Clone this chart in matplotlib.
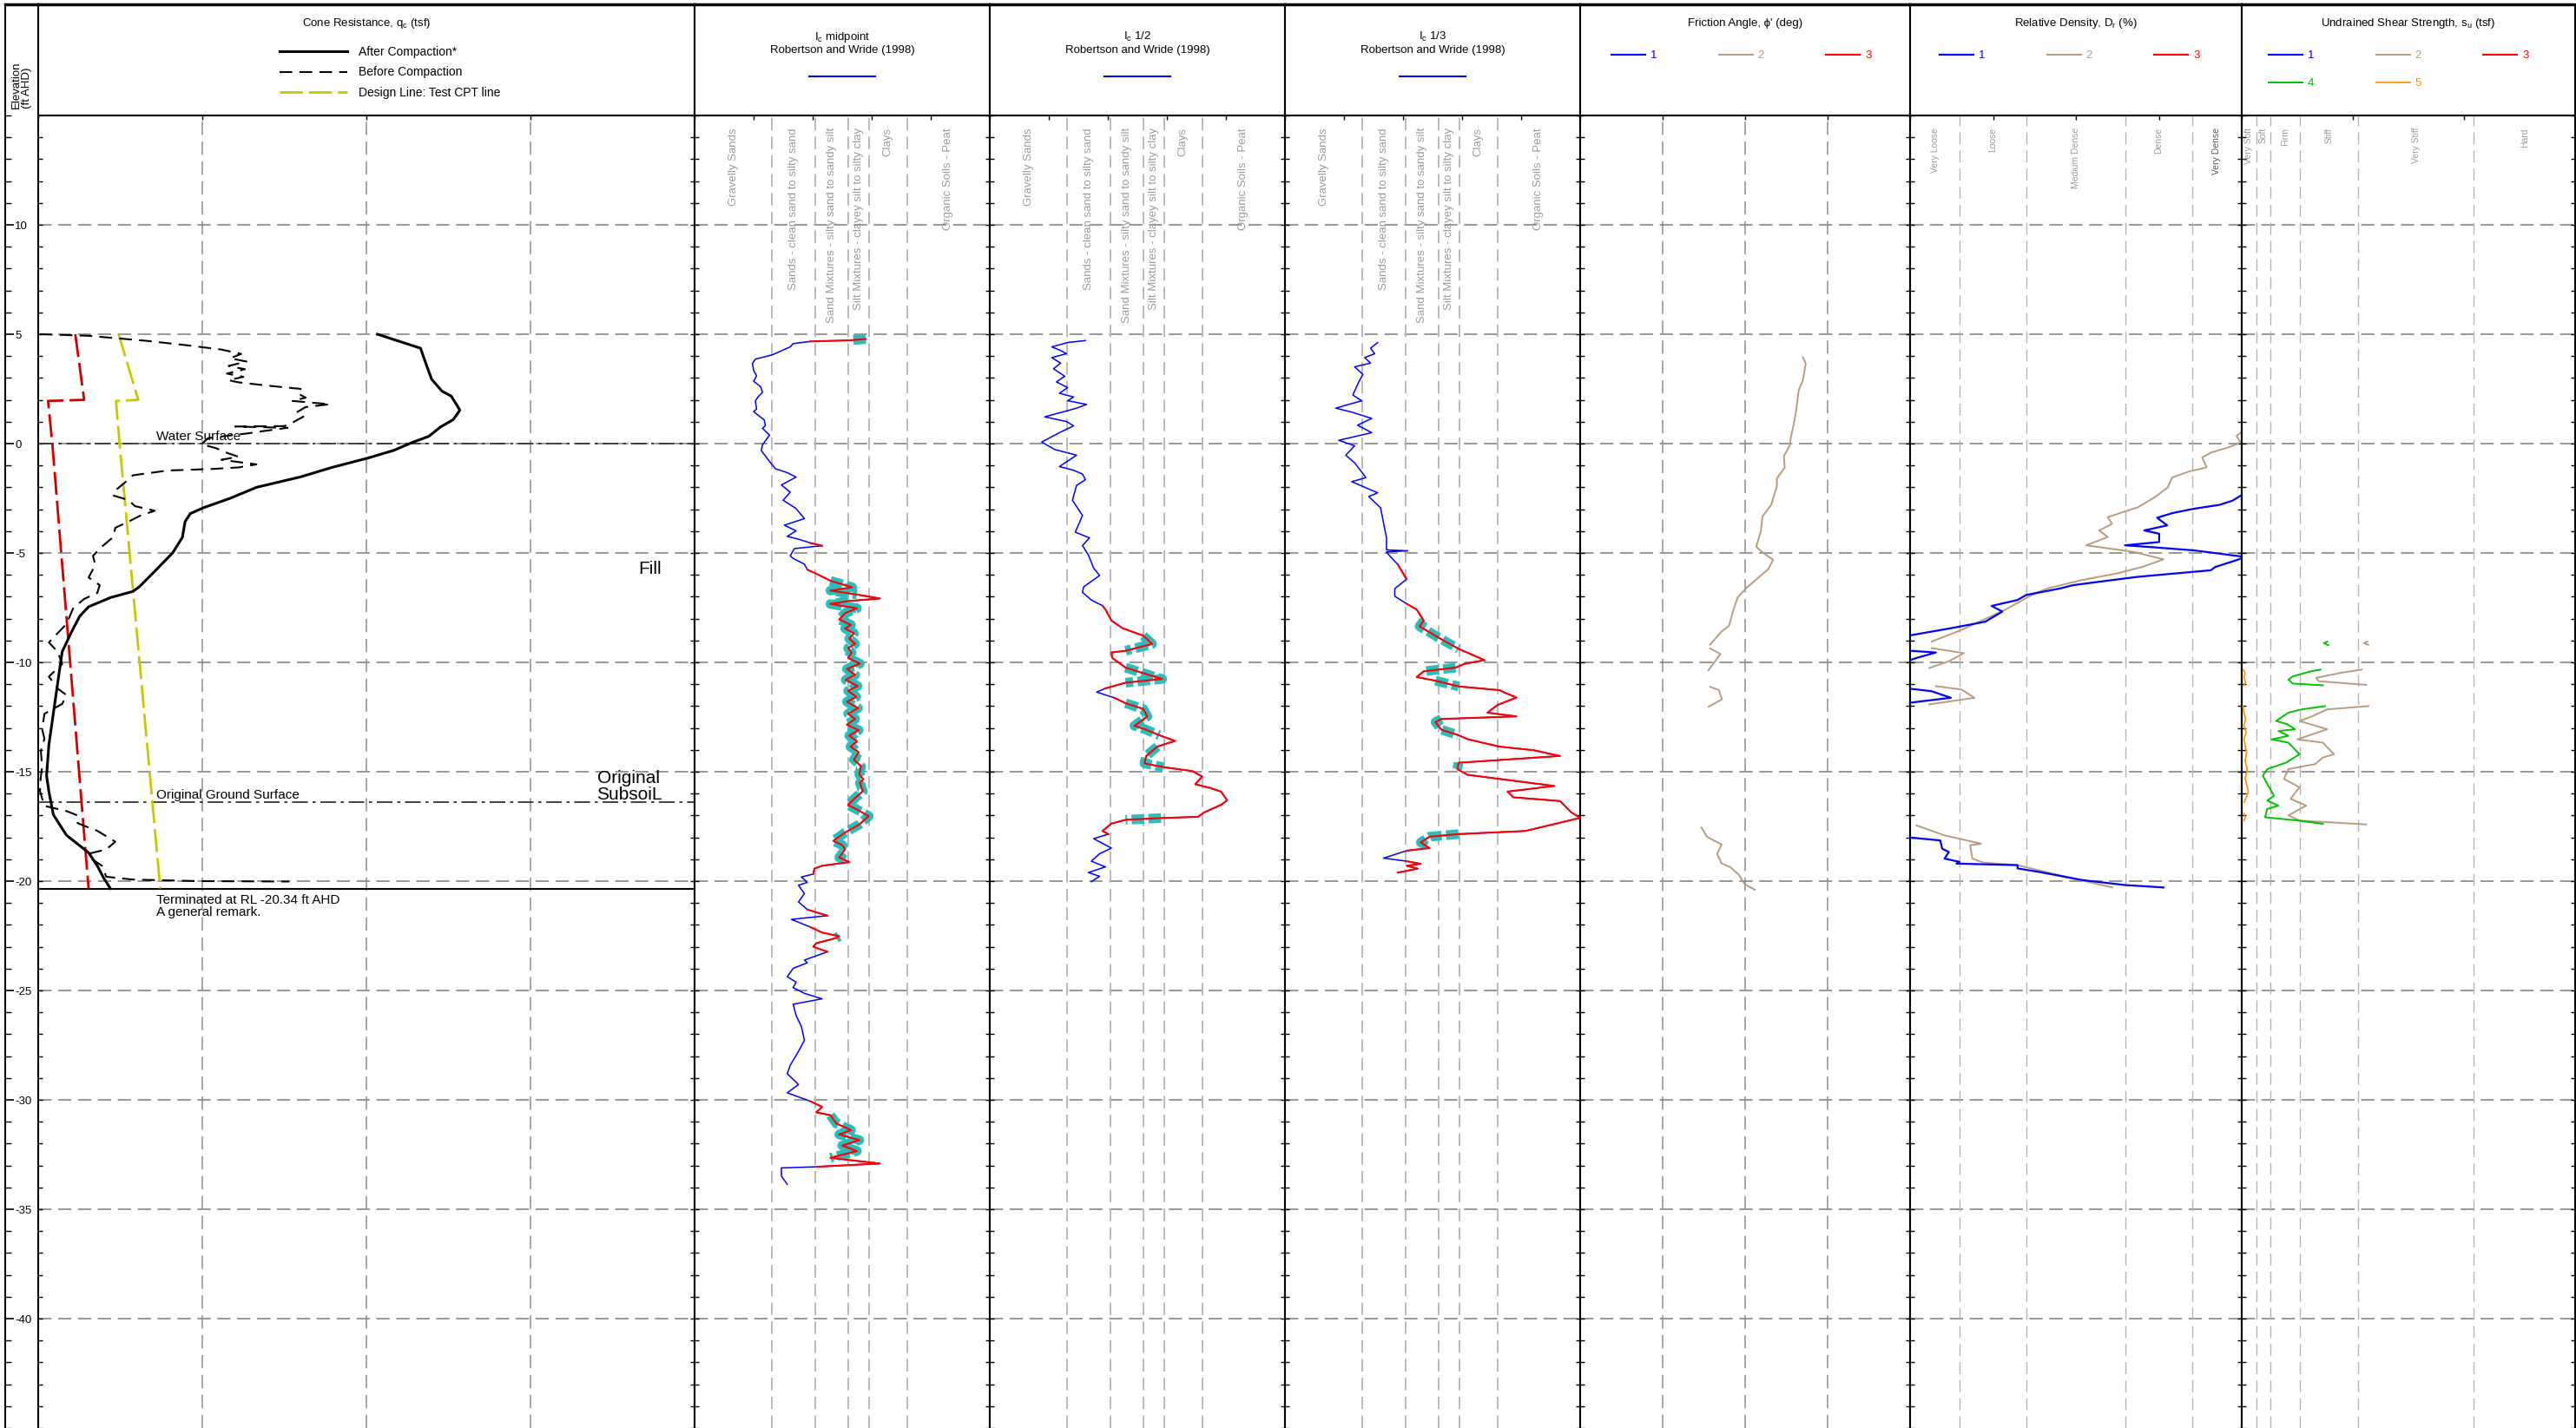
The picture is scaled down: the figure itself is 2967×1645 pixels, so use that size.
import matplotlib.pyplot as plt
from matplotlib.lines import Line2D
import numpy as np

nan = np.nan

# ---------------------------------------------------------------- data
# every series is (elevation ft AHD, value)
qc_after = np.array([
    (5.0, 206.7), (4.36, 233), (3.8, 235.6), (2.95, 239.7), (2.4, 246), (2.17, 251.7),
    (1.53, 257), (1.1, 253), (0.75, 245), (0.33, 238), (0.04, 227.5), (-0.31, 216.7),
    (-0.67, 200.5), (-1.09, 179), (-1.52, 160), (-2.0, 133), (-2.5, 117), (-2.93, 100.8),
    (-3.2, 92.7), (-3.57, 89.5), (-4.28, 87.9), (-4.99, 82), (-5.84, 71), (-6.54, 61.7),
    (-6.76, 57.7), (-7.04, 44), (-7.46, 30.7), (-7.89, 25.3), (-8.67, 19.9), (-9.52, 14.6),
    (-10.93, 11.9), (-12.35, 9.2), (-13.77, 6.5), (-15.18, 5.1), (-15.9, 6.5), (-16.96, 9.2),
    (-17.9, 17.2), (-18.7, 30.7), (-19.3, 36), (-19.87, 40), (-20.34, 44)])

qc_before = np.array([
    (5.0, 1), (4.93, 30), (4.7, 65.7), (4.5, 90), (4.3, 111.6), (4.1, 123.7), (3.9, 117),
    (3.75, 127), (3.55, 116), (3.4, 126), (3.2, 115), (3.05, 125), (2.9, 116), (2.8, 122),
    (2.66, 138.5), (2.5, 160), (2.3, 158), (2.1, 163), (1.95, 155), (1.8, 177.8), (1.67, 163),
    (1.45, 158), (1.25, 162), (0.96, 155), (0.8, 150), (0.78, 120), (0.72, 152), (0.55, 135),
    (0.47, 128), (0.25, 103.5), (-0.03, 99.5), (-0.2, 108), (-0.31, 111.6), (-0.45, 116),
    (-0.6, 122), (-0.74, 111.6), (-0.95, 133), (-1.09, 122), (-1.16, 106), (-1.23, 79),
    (-1.45, 57.7), (-1.73, 53.6), (-2.08, 48), (-2.37, 45.6), (-2.58, 55), (-2.86, 59),
    (-3.07, 71), (-3.3, 62), (-3.57, 55), (-3.85, 47), (-4.28, 45.6), (-4.7, 39), (-5.13, 33.4),
    (-5.55, 34.8), (-6.12, 30.7), (-6.47, 37.5), (-6.83, 36), (-7.1, 28), (-7.53, 21.3),
    (-8.24, 17.3), (-9.09, 6.5), (-9.52, 11.9), (-10.08, 14.6), (-10.65, 6.5), (-11.2, 11.9),
    (-11.5, 17.3), (-11.9, 14.6), (-12.35, 3.8), (-13.06, 2.4), (-13.5, 3.8), (-14.05, 1.6),
    (-14.76, 2.4), (-15.3, 1.5), (-15.9, 1.1), (-16.56, 3.8), (-16.8, 17.3), (-17.0, 24),
    (-17.35, 24), (-17.5, 29), (-17.7, 36), (-18.2, 47), (-18.55, 41.5), (-18.75, 30.7),
    (-19.0, 33), (-19.3, 38.8), (-19.8, 41.5), (-19.93, 57.7), (-20.0, 98), (-20.02, 153)])

qc_design = np.array([(5.0, 49), (2.0, 61), (1.95, 47.4), (0.0, 49.6), (-20.34, 74.4)])
qc_limit = np.array([(5.0, 22.6), (2.0, 28), (1.95, 6), (0.0, 8.6), (-20.34, 30.7)])

water_surface = 0.0
original_ground = -16.4
termination = -20.34

ic_mid = np.array([
    (4.78, 2.90), (4.72, 2.62), (4.67, 1.96), (4.57, 1.67), (4.42, 1.62), (4.06, 1.32),
    (3.86, 1.03), (3.66, 0.98), (3.35, 1.00), (3.10, 1.05), (2.85, 1.00), (2.60, 1.12),
    (2.34, 1.15), (2.15, 1.08), (1.96, 1.03), (1.58, 1.05), (1.46, 1.00), (1.08, 1.18),
    (0.82, 1.20), (0.70, 1.15), (0.39, 1.27), (-0.06, 1.15), (-0.32, 1.13), (-0.82, 1.27),
    (-1.15, 1.37), (-1.33, 1.57), (-1.53, 1.72), (-1.89, 1.47), (-2.22, 1.62), (-2.59, 1.50),
    (-2.97, 1.72), (-3.43, 1.86), (-3.73, 1.52), (-3.99, 1.72), (-4.24, 1.57), (-4.37, 1.76),
    (-4.54, 1.96), (-4.67, 2.16), (-4.80, 1.69), (-5.13, 1.62), (-5.25, 1.67), (-5.51, 1.86),
    (-5.76, 1.91), (-6.01, 2.11), (-6.27, 2.30), (-6.47, 2.55), (-6.57, 2.67), (-6.72, 2.30),
    (-6.90, 2.75), (-7.08, 3.14), (-7.20, 2.60), (-7.33, 2.30), (-7.53, 2.75), (-7.75, 2.55),
    (-8.04, 2.45), (-8.29, 2.65), (-8.45, 2.55), (-8.67, 2.70), (-8.92, 2.62), (-9.15, 2.72),
    (-9.35, 2.60), (-9.56, 2.66), (-9.80, 2.60), (-10.06, 2.80), (-10.30, 2.58), (-10.57, 2.72),
    (-10.80, 2.56), (-11.08, 2.76), (-11.30, 2.60), (-11.58, 2.74), (-11.80, 2.58), (-12.09, 2.77),
    (-12.35, 2.60), (-12.59, 2.72), (-12.85, 2.58), (-13.10, 2.78), (-13.35, 2.62), (-13.61, 2.75),
    (-13.85, 2.64), (-14.11, 2.78), (-14.45, 2.70), (-14.75, 2.82), (-15.13, 2.79), (-15.35, 2.86),
    (-15.51, 2.80), (-15.89, 2.85), (-16.20, 2.72), (-16.52, 2.60), (-16.80, 2.80), (-17.03, 2.95),
    (-17.41, 2.79), (-17.78, 2.55), (-18.16, 2.35), (-18.35, 2.50), (-18.54, 2.55), (-18.92, 2.45),
    (-19.13, 2.62), (-19.30, 2.16), (-19.43, 2.03), (-19.68, 2.01), (-19.81, 1.81), (-20.06, 1.91),
    (-20.19, 1.76), (-20.57, 1.86), (-20.95, 1.76), (-21.30, 1.91), (-21.58, 2.25), (-21.75, 1.64),
    (-22.10, 1.96), (-22.35, 2.16), (-22.52, 2.45), (-22.60, 2.40), (-22.84, 2.06), (-23.00, 2.01),
    (-23.23, 2.25), (-23.61, 1.86), (-23.73, 1.91), (-23.99, 1.67), (-24.37, 1.57), (-24.62, 1.72),
    (-24.87, 1.67), (-25.13, 1.86), (-25.38, 2.16), (-25.63, 1.67), (-26.14, 1.72), (-26.65, 1.81),
    (-27.28, 1.86), (-27.78, 1.76), (-28.42, 1.62), (-28.80, 1.57), (-29.30, 1.76), (-29.68, 1.57),
    (-30.06, 1.96), (-30.32, 2.16), (-30.57, 2.06), (-30.70, 2.30), (-31.08, 2.40), (-31.38, 2.65),
    (-31.58, 2.45), (-31.84, 2.79), (-32.09, 2.50), (-32.34, 2.75), (-32.65, 2.30), (-32.91, 3.14),
    (-33.06, 2.06), (-33.11, 1.47), (-33.48, 1.47), (-33.86, 1.57)])

ic_half = np.array([
    (4.71, 1.62), (4.62, 1.32), (4.42, 1.05), (4.28, 1.18), (4.11, 1.30), (3.93, 1.05),
    (3.68, 1.20), (3.42, 1.08), (3.08, 1.27), (2.82, 1.13), (2.56, 1.32), (2.30, 1.18),
    (2.13, 1.42), (1.96, 1.32), (1.79, 1.64), (1.62, 1.47), (1.22, 0.93), (1.01, 1.30),
    (0.81, 1.42), (0.50, 1.18), (0.07, 0.88), (-0.27, 1.10), (-0.53, 1.47), (-1.05, 1.18),
    (-1.22, 1.42), (-1.39, 1.57), (-1.65, 1.62), (-1.91, 1.47), (-2.59, 1.40), (-3.28, 1.57),
    (-4.05, 1.45), (-4.31, 1.69), (-4.66, 1.57), (-5.09, 1.67), (-5.69, 1.76), (-6.03, 1.86),
    (-6.55, 1.59), (-6.80, 1.57), (-7.15, 1.72), (-7.41, 1.91), (-7.58, 1.96), (-8.09, 2.06),
    (-8.44, 2.25), (-8.78, 2.60), (-9.16, 2.75), (-9.47, 2.30), (-9.55, 2.06), (-9.81, 2.08),
    (-10.24, 2.30), (-10.58, 2.70), (-10.76, 2.92), (-10.93, 2.30), (-11.19, 1.96), (-11.36, 1.81),
    (-11.62, 2.11), (-11.87, 2.30), (-12.13, 2.60), (-12.47, 2.67), (-12.90, 2.45), (-13.08, 2.65),
    (-13.33, 2.87), (-13.59, 3.14), (-13.85, 2.84), (-14.28, 2.65), (-14.62, 2.62), (-14.79, 2.94),
    (-14.97, 3.43), (-15.22, 3.60), (-15.57, 3.48), (-15.74, 3.73), (-15.91, 3.92), (-16.31, 4.02),
    (-16.51, 3.92), (-16.86, 3.63), (-17.06, 3.53), (-17.12, 2.90), (-17.20, 2.30), (-17.37, 2.06),
    (-17.71, 1.91), (-17.85, 2.01), (-18.06, 1.76), (-18.49, 2.06), (-18.75, 1.86), (-19.09, 1.72),
    (-19.35, 1.96), (-19.61, 1.67), (-19.78, 1.86), (-20.03, 1.72)])

ic_third = np.array([
    (4.62, 1.57), (4.36, 1.45), (4.11, 1.52), (3.93, 1.35), (3.68, 1.45), (3.51, 1.18),
    (3.16, 1.32), (2.82, 1.25), (2.22, 1.15), (1.96, 1.30), (1.62, 0.86), (1.44, 1.13),
    (1.15, 1.47), (0.84, 1.23), (0.50, 1.47), (0.15, 0.91), (-0.10, 1.18), (-0.53, 1.03),
    (-0.88, 1.18), (-1.30, 1.30), (-1.56, 1.37), (-1.74, 1.13), (-2.25, 1.57), (-2.42, 1.42),
    (-2.94, 1.62), (-3.63, 1.67), (-4.31, 1.72), (-4.86, 1.72), (-4.90, 2.08), (-4.95, 1.72),
    (-5.09, 1.76), (-5.52, 1.91), (-6.20, 2.06), (-6.63, 1.86), (-6.98, 1.86), (-7.32, 2.06),
    (-7.58, 2.23), (-8.09, 2.35), (-8.35, 2.28), (-8.87, 2.60), (-9.38, 2.94), (-9.90, 3.38),
    (-10.07, 3.04), (-10.24, 2.89), (-10.41, 2.35), (-10.67, 2.23), (-10.84, 2.55), (-11.10, 2.94),
    (-11.27, 3.63), (-11.44, 3.77), (-11.61, 3.92), (-11.95, 3.60), (-12.30, 3.43), (-12.47, 3.92),
    (-12.59, 2.65), (-12.73, 2.55), (-13.08, 2.65), (-13.33, 2.94), (-13.51, 3.09), (-13.85, 3.63),
    (-14.02, 4.22), (-14.28, 4.66), (-14.59, 2.94), (-14.88, 2.92), (-15.14, 3.09), (-15.65, 4.56),
    (-15.91, 3.77), (-16.17, 3.87), (-16.34, 4.66), (-16.86, 4.85), (-17.11, 5.00), (-17.71, 4.07),
    (-17.85, 2.94), (-17.97, 2.45), (-18.23, 2.30), (-18.49, 2.45), (-18.61, 2.06), (-18.95, 1.67),
    (-19.09, 2.06), (-19.21, 2.30), (-19.30, 2.06), (-19.43, 2.25), (-19.61, 1.91)])

phi_2 = np.array([
    (3.95, 54.0), (3.66, 54.7), (2.88, 54.0), (2.45, 53.0), (1.41, 52.3), (0.98, 51.9),
    (0.29, 51.1), (-0.09, 50.8), (-0.57, 49.4), (-1.09, 49.6), (-1.60, 47.7), (-1.95, 47.7),
    (-2.81, 46.3), (-3.33, 44.2), (-4.02, 43.8), (-4.71, 42.7), (-4.97, 44.2), (-5.31, 46.8),
    (-5.74, 45.6), (-6.60, 40.3), (-7.03, 38.2), (-7.64, 37.1), (-8.33, 36.1), (-8.59, 34.3),
    (-9.19, 31.5), (nan, nan), (-9.36, 31.5), (-9.62, 34.0), (-10.36, 31.1), (nan, nan),
    (-11.12, 31.5), (-11.26, 33.6), (-11.69, 34.4), (-12.03, 31.1), (nan, nan),
    (-17.55, 29.4), (-17.98, 30.8), (-18.33, 34.3), (-18.76, 33.2), (-19.19, 34.3),
    (-19.36, 36.4), (-19.71, 38.5), (-20.14, 39.9), (-20.40, 42.4)])

dr_1 = np.array([
    (-2.38, 99.7), (-2.61, 97.2), (-2.80, 93.3), (-2.98, 85.5), (-3.18, 79.0), (-3.39, 74.5),
    (-3.74, 77.5), (-3.97, 70.6), (-4.12, 75.1), (-4.50, 75.1), (-4.65, 64.8), (-4.73, 72.5),
    (-4.88, 85.5), (-5.18, 101.0), (-5.33, 98.4), (-5.64, 92.0), (-5.79, 90.7), (-6.09, 68.7),
    (-6.24, 60.9), (-6.47, 49.2), (-6.62, 45.3), (-6.92, 35.0), (-7.15, 32.4), (-7.42, 24.6),
    (-7.68, 27.8), (-8.14, 22.7), (-8.44, 12.3), (-8.82, -2), (nan, nan), (-9.45, -2),
    (-9.55, 7.8), (-9.80, 1.9), (-10.0, -2), (nan, nan), (-11.17, -2), (-11.32, 6.5),
    (-11.62, 12.3), (-11.88, -2), (nan, nan), (-17.98, -2), (-18.14, 9.1), (-18.52, 9.7),
    (-18.67, 11.7), (-18.97, 10.4), (-19.12, 14.9), (-19.20, 14.0), (-19.27, 32.4),
    (-19.42, 32.4), (-19.58, 38.9), (-19.95, 51.8), (-20.18, 64.8), (-20.29, 76.4)])

dr_2 = np.array([
    (0.5, 99.7), (0.35, 98.4), (0.05, 99.7), (-0.18, 95.9), (-0.41, 90.7), (-0.64, 88.1),
    (-1.09, 89.4), (-1.27, 84.2), (-1.55, 79.0), (-2.0, 77.7), (-2.45, 73.8), (-2.91, 68.7),
    (-3.36, 59.6), (-3.67, 60.9), (-3.97, 57.0), (-4.27, 59.6), (-4.65, 53.1), (-4.95, 67.4),
    (-5.29, 76.4), (-5.64, 70.0), (-5.94, 62.2), (-6.24, 51.8), (-6.62, 41.5), (-6.85, 37.6),
    (-7.61, 28.5), (-7.83, 25.3), (-8.52, 15.5), (-9.05, 6.5), (nan, nan), (-9.35, 6.5),
    (-9.58, 16.2), (-9.95, 11.7), (-10.26, 5.8), (nan, nan), (-11.09, 7.8), (-11.24, 15.5),
    (-11.62, 19.4), (-11.92, 5.8), (nan, nan), (-17.45, 1.9), (-17.91, 10.4), (-18.29, 21.4),
    (-18.36, 18.1), (-18.97, 18.8), (-19.15, 22.0), (-19.27, 32.4), (-19.88, 49.2),
    (-20.29, 60.9)])

su_2 = np.array([
    (-9.05, 1.13), (-9.12, 1.10), (-9.20, 1.14), (nan, nan),
    (-10.33, 1.08), (-10.48, 0.89), (-10.71, 0.67), (-10.86, 0.69), (-11.03, 1.12), (nan, nan),
    (-12.0, 1.14), (-12.15, 0.77), (-12.45, 0.64), (-12.68, 0.52), (-13.06, 0.77), (-13.52, 0.50),
    (-13.67, 0.73), (-14.20, 0.83), (-14.35, 0.73), (-14.65, 0.66), (-14.88, 0.42), (-15.33, 0.38),
    (-15.71, 0.52), (-16.24, 0.44), (-16.55, 0.58), (-17.0, 0.42), (-17.23, 0.52), (-17.41, 1.12)])

su_4 = np.array([
    (-9.05, 0.77), (-9.12, 0.74), (-9.22, 0.78), (nan, nan),
    (-10.33, 0.71), (-10.41, 0.62), (-10.64, 0.46), (-10.79, 0.42), (-10.97, 0.46), (-11.05, 0.73),
    (nan, nan), (-12.0, 0.75), (-12.15, 0.54), (-12.30, 0.42), (-12.68, 0.31), (-12.83, 0.41),
    (-13.06, 0.48), (-13.14, 0.33), (-13.36, 0.42), (-13.52, 0.27), (-13.67, 0.42), (-14.20, 0.52),
    (-14.58, 0.40), (-14.88, 0.23), (-15.18, 0.19), (-15.56, 0.23), (-16.09, 0.29), (-16.32, 0.23),
    (-16.55, 0.33), (-16.70, 0.23), (-17.08, 0.21), (-17.23, 0.50), (-17.38, 0.73)])

su_5 = np.array([
    (-10.33, 0.015), (-10.5, 0.03), (-10.7, 0.02), (-10.9, 0.035), (-11.05, 0.02), (nan, nan),
    (-12.0, 0.01), (-12.3, 0.02), (-12.6, 0.035), (-12.9, 0.02), (-13.2, 0.04), (-13.5, 0.02),
    (-13.8, 0.03), (-14.1, 0.045), (-14.5, 0.03), (-14.9, 0.05), (-15.3, 0.03), (-15.6, 0.045),
    (-15.9, 0.06), (-16.2, 0.04), (-16.4, 0.02), (nan, nan), (-16.9, 0.02), (-17.1, 0.03),
    (-17.25, 0.02)])

ic_bounds = [1.31, 2.05, 2.60, 2.95, 3.60]
ic_zones = ['Gravelly Sands', 'Sands - clean sand to silty sand',
            'Sand Mixtures - silty sand to sandy silt',
            'Silt Mixtures - clayey silt to silty clay', 'Clays', 'Organic Soils - Peat']
dr_bounds = [15, 35, 65, 85]
dr_zones = ['Very Loose', 'Loose', 'Medium Dense', 'Dense', 'Very Dense']
su_bounds_kpa = [12.5, 25, 50, 100, 200]
su_zones = ['Very Soft', 'Soft', 'Firm', 'Stiff', 'Very Stiff', 'Hard']
KPA_PER_TSF = 95.76

SERIES = ['#0000ff', '#b99b7d', '#ff0000', '#00c000', '#ff8c00']

# ---------------------------------------------------------------- layout
plt.rcParams['font.family'] = ['Liberation Sans', 'DejaVu Sans']
plt.rcParams['axes.unicode_minus'] = False
plt.rcParams['mathtext.default'] = 'regular'

W, H = 2967, 1645
FRAME_LEFT, FRAME_TOP, HEAD_BOT = 6, 5, 133
PX_PER_FT = (H - HEAD_BOT) / 60.0
ZONE_TOP = 15 - 14 / PX_PER_FT

fig = plt.figure(figsize=(W / 100, H / 100), dpi=100)


def rect(x0, y0, x1, y1):
    return [x0 / W, 1 - y1 / H, (x1 - x0) / W, (y1 - y0) / H]


def fpos(x, y):
    return (x / W, 1 - y / H)


h_grid = dict(color='#7a7a7a', lw=1.1, ls=(0, (10, 5)), zorder=1)
v_grid = dict(color='#8c8c8c', lw=1.1, ls=(0, (10, 5)), zorder=1)
zone_grid = dict(color='#b4b4b4', lw=1.3, ls=(0, (8, 4)), zorder=1)


def zone_centres(bounds, lo, hi):
    edges = np.r_[lo, bounds, hi]
    return (edges[:-1] + edges[1:]) / 2


def add_panel(x0, x1, xlim, xticks, title, title_y=27):
    ax = fig.add_axes(rect(x0, HEAD_BOT, x1, H))
    ax.set_xlim(*xlim)
    ax.set_ylim(-45, 15)
    ax.set_xticks(xticks)
    ax.set_yticks(np.arange(-45, 16, 1))
    ax.tick_params(axis='x', top=True, bottom=False, labeltop=True, labelbottom=False,
                   direction='in', length=3.6, width=1, pad=2.5, labelsize=9.5)
    ax.tick_params(axis='y', left=True, right=True, labelleft=False,
                   direction='in', length=3.6, width=1)
    labs = ax.get_xticklabels()
    labs[0].set_ha('left')
    labs[-1].set_ha('right')
    for y in range(-40, 16, 5):
        ax.axhline(y, **h_grid)
    for s in ax.spines.values():
        s.set_linewidth(1.5)
    ax.spines['bottom'].set_visible(False)

    hd = fig.add_axes(rect(x0, FRAME_TOP, x1, HEAD_BOT))
    hd.set_xticks([])
    hd.set_yticks([])
    for s in hd.spines.values():
        s.set_linewidth(1.5)
    hd.spines['top'].set_linewidth(2.5)
    hd.text(0.5, 1 - (title_y - FRAME_TOP) / (HEAD_BOT - FRAME_TOP), title,
            transform=hd.transAxes, ha='center', va='center', fontsize=9.5, linespacing=1.15)
    return ax, hd


def series_legend(x0, handles, labels):
    fig.legend(handles, labels, ncol=3, loc='upper left', bbox_to_anchor=fpos(x0, 58),
               frameon=False, fontsize=9.5, handlelength=2.95, handletextpad=0.45,
               columnspacing=5.4, labelspacing=1.5, labelcolor='linecolor',
               borderpad=0, borderaxespad=0)


# elevation column
ax_e = fig.add_axes(rect(FRAME_LEFT, FRAME_TOP, 44, H))
ax_e.set_ylim(-45, 15 + (HEAD_BOT - FRAME_TOP) / PX_PER_FT)
ax_e.set_xticks([])
ax_e.set_yticks(range(-40, 11, 5))
ax_e.set_yticks(range(-45, 16, 1), minor=True)
ax_e.tick_params(axis='y', which='major', direction='in', length=7, width=1.2, pad=-8,
                 labelsize=9.5)
ax_e.tick_params(axis='y', which='minor', direction='in', length=5, width=1)
for lab in ax_e.get_yticklabels():
    lab.set_ha('left')
for side in ('right', 'bottom'):
    ax_e.spines[side].set_visible(False)
ax_e.spines['left'].set_linewidth(1.5)
ax_e.spines['top'].set_linewidth(2.5)
ax_e.text(0.5, 15 + 8 / PX_PER_FT, 'Elevation\n(ft AHD)', transform=ax_e.get_yaxis_transform(),
          rotation=90, ha='center', va='bottom', multialignment='left', fontsize=9.5,
          linespacing=1.0)

# cone resistance
ax, hd = add_panel(44, 800, (0, 400), [0, 100, 200, 300, 400], 'Cone Resistance, q$_c$ (tsf)')
for x in (100, 200, 300):
    ax.axvline(x, **v_grid)
l_after, = ax.plot(qc_after[:, 1], qc_after[:, 0], color='black', lw=2.2, zorder=4)
l_before, = ax.plot(qc_before[:, 1], qc_before[:, 0], color='black', lw=1.5,
                    ls=(0, (7, 4)), zorder=4)
l_design, = ax.plot(qc_design[:, 1], qc_design[:, 0], color='#c8c800', lw=2.0,
                    ls=(0, (9.5, 2.5)), zorder=3)
ax.plot(qc_limit[:, 1], qc_limit[:, 0], color='#d00000', lw=2.0, ls=(0, (9.5, 2.5)), zorder=3)
ax.axhline(water_surface, color='#333333', lw=1.3, ls=(0, (10, 3, 2, 3)), zorder=2)
ax.axhline(original_ground, color='#333333', lw=1.3, ls=(0, (10, 3, 2, 3)), zorder=2)
ax.axhline(termination, color='black', lw=1.5, zorder=2)
ax.text(72, water_surface + 0.05, 'Water Surface', fontsize=11, va='bottom')
ax.text(72, original_ground + 0.05, 'Original Ground Surface', fontsize=11, va='bottom')
ax.text(72, termination - 0.25, f'Terminated at RL {termination:.2f} ft AHD\nA general remark.',
        fontsize=11, va='top', linespacing=1.05)
ax.text(380, -5.75, 'Fill', fontsize=15, ha='right', va='center')
ax.text(380, -15.67, 'Original\nSubsoiL', fontsize=15, ha='right', va='center',
        multialignment='center', linespacing=0.95)
fig.legend([l_after, l_before, l_design],
           ['After Compaction*', 'Before Compaction', 'Design Line: Test CPT line'],
           loc='upper left', bbox_to_anchor=fpos(322, 53), frameon=False, fontsize=10,
           handlelength=5.6, handletextpad=0.93, labelspacing=0.68,
           borderpad=0, borderaxespad=0)

# soil behaviour type index panels
ic_centres = zone_centres(ic_bounds, 0, 5)
ic_panels = [(800, 1140, ic_mid, 'midpoint'), (1140, 1480, ic_half, '1/2'),
             (1480, 1820, ic_third, '1/3')]
for x0, x1, data, name in ic_panels:
    ax, hd = add_panel(x0, x1, (0, 5), range(6),
                       f'I$_c$ {name}\nRobertson and Wride (1998)', title_y=49.5)
    for b in ic_bounds:
        ax.axvline(b, **zone_grid)
    for c, z in zip(ic_centres, ic_zones):
        ax.text(c, ZONE_TOP, z, rotation=90, ha='center', va='top', color='#9a9a9a',
                fontsize=9.5)
    elev, ic = data[:, 0], data[:, 1]
    ax.plot(ic, elev, color='#0000ff', lw=1.1, zorder=3)
    # transitional soils flagged with a heavy band under the trace
    mixed = (ic >= 2.28) & (ic <= 2.95)
    ax.plot(np.where(mixed, ic, nan), elev, color='#2cbcbc', lw=8, ls=(0, (1.3, 0.45)),
            solid_capstyle='butt', zorder=4)
    ax.plot(np.where(ic >= 1.9, ic, nan), elev, color='#ff0000', lw=1.5, zorder=5)
    hd.plot([0.387, 0.613], [0.35, 0.35], transform=hd.transAxes, color='#0000ff', lw=1.5)

# friction angle
ax, hd = add_panel(1820, 2200, (0, 80), [0, 20, 40, 60, 80], "Friction Angle, ϕ' (deg)")
for x in (20, 40, 60):
    ax.axvline(x, **v_grid)
l_phi2, = ax.plot(phi_2[:, 1], phi_2[:, 0], color=SERIES[1], lw=1.4, zorder=3)
series_legend(1856, [Line2D([], [], color=SERIES[0]), l_phi2, Line2D([], [], color=SERIES[2])],
              ['1', '2', '3'])

# relative density
ax, hd = add_panel(2200, 2582, (0, 100), [0, 25, 50, 75, 100], 'Relative Density, D$_r$ (%)')
for b in dr_bounds:
    ax.axvline(b, color='#b4b4b4', lw=1.0, ls=(0, (10, 5)), zorder=1)
for c, z in zip(zone_centres(dr_bounds, 0, 100), dr_zones):
    ax.text(c, ZONE_TOP, z, rotation=90, ha='center', va='top', fontsize=7.5,
            color='#555555' if z == 'Very Dense' else '#9a9a9a')
l_dr1, = ax.plot(dr_1[:, 1], dr_1[:, 0], color=SERIES[0], lw=1.6, zorder=4)
l_dr2, = ax.plot(dr_2[:, 1], dr_2[:, 0], color=SERIES[1], lw=1.4, zorder=3)
series_legend(2234, [l_dr1, l_dr2, Line2D([], [], color=SERIES[2])], ['1', '2', '3'])

# undrained shear strength
su_bounds = np.array(su_bounds_kpa) / KPA_PER_TSF
ax, hd = add_panel(2582, 2966, (0, 3), [0, 1, 2, 3], 'Undrained Shear Strength, s$_u$ (tsf)')
for b in su_bounds:
    ax.axvline(b, color='#b4b4b4', lw=1.0, ls=(0, (10, 5)), zorder=1)
for c, z in zip(zone_centres(su_bounds, 0, 3), su_zones):
    ax.text(c, ZONE_TOP, z, rotation=90, ha='center', va='top', fontsize=7.5, color='#9a9a9a')
l_su2, = ax.plot(su_2[:, 1], su_2[:, 0], color=SERIES[1], lw=1.4, zorder=3)
l_su4, = ax.plot(su_4[:, 1], su_4[:, 0], color=SERIES[3], lw=1.4, zorder=4)
l_su5, = ax.plot(su_5[:, 1], su_5[:, 0], color=SERIES[4], lw=1.2, zorder=4)
su_handles = [Line2D([], [], color=SERIES[0]), l_su4, l_su2, l_su5,
              Line2D([], [], color=SERIES[2])]
series_legend(2613, su_handles, ['1', '4', '2', '5', '3'])

fig.savefig('out.png', dpi=100)
